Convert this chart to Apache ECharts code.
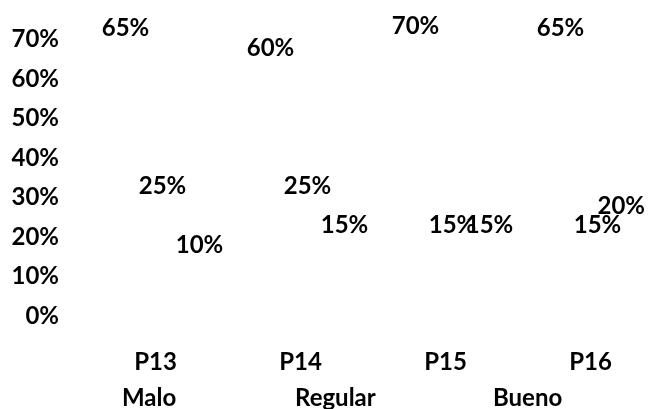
<!DOCTYPE html>
<html>
<head>
<meta charset="utf-8">
<script src="https://cdn.jsdelivr.net/npm/echarts@6/dist/echarts.min.js"></script>
<style>html,body{margin:0;padding:0;background:#fff}#c{width:648px;height:409px}</style>
</head>
<body>
<div id="c"></div>
<script>
var categories = ['P13', 'P14', 'P15', 'P16'];
var seriesNames = ['Malo', 'Regular', 'Bueno'];
var malo = [0.65, 0.60, 0.70, 0.65];
var regular = [0.25, 0.25, 0.15, 0.15];
var bueno = [0.10, 0.15, 0.15, 0.20];
var yTicks = [0, 0.1, 0.2, 0.3, 0.4, 0.5, 0.6, 0.7];

var FONT = 'Lato';
var textStyle = { fontFamily: FONT, fontWeight: 'bold', fontSize: 24, color: '#000' };
var values = [malo, regular, bueno];
var LABEL_DIST = 19;
var LABEL_CEIL = 14;   // labels are kept inside the chart area, like the original
var LABEL_RIGHT = 645;
var BAR_W = 25, BAR_GAP = 0.48;

var measureCtx = document.createElement('canvas').getContext('2d');
measureCtx.font = 'bold 24px ' + FONT;
function fmt(v) { return Math.round(v * 100) + '%'; }

var chart = echarts.init(document.getElementById('c'), null, { renderer: 'canvas' });
function buildSeries(withClamp) {
  return seriesNames.map(function (name, i) {
    return {
      name: name,
      type: 'bar',
      data: values[i].map(function (v, j) {
        var item = { value: v };
        if (withClamp) {
          var p = chart.convertToPixel({ gridIndex: 0 }, [j, v]);
          var cx = p[0] + (i - 1) * BAR_W * (1 + BAR_GAP);
          var labelTop = p[1] - LABEL_DIST - 24;
          var halfW = measureCtx.measureText(fmt(v)).width / 2;
          var dx = 0, dy = 0;
          if (labelTop < LABEL_CEIL) dy = LABEL_CEIL - labelTop;
          if (cx + halfW > LABEL_RIGHT) dx = LABEL_RIGHT - (cx + halfW);
          if (dx || dy) item.label = { offset: [dx, dy] };
        }
        return item;
      }),
      barWidth: BAR_W,
      barGap: (BAR_GAP * 100) + '%',
      itemStyle: { color: 'rgba(255,255,255,0)' },
      label: {
        show: true,
        position: 'top',
        distance: LABEL_DIST,
        fontFamily: FONT, fontWeight: 'bold', fontSize: 24, color: '#000',
        formatter: function (p) { return fmt(p.value); }
      }
    };
  });
}
var legendLefts = [103, 276, 474];
var legends = seriesNames.map(function (name, i) {
  return {
    data: [name],
    left: legendLefts[i],
    top: 386,
    padding: 0,
    icon: 'rect',
    itemWidth: 14,
    itemHeight: 14,
    itemStyle: { color: 'rgba(255,255,255,0)' },
    textStyle: textStyle,
    selectedMode: false
  };
});
chart.setOption({
  animation: false,
  backgroundColor: '#fff',
  grid: { left: 90, top: 39.5, width: 580, bottom: 93, containLabel: false, outerBoundsMode: 'none' },
  legend: legends,
  xAxis: {
    type: 'category',
    data: categories,
    axisLine: { show: false },
    axisTick: { show: false },
    axisLabel: Object.assign({ margin: 34, padding: [0, 14, 0, 0] }, textStyle)
  },
  yAxis: {
    type: 'value',
    min: 0,
    max: 0.7,
    interval: 0.1,
    splitLine: { show: false },
    axisLine: { show: false },
    axisTick: { show: false },
    axisLabel: Object.assign({ margin: 31, formatter: fmt }, textStyle)
  },
  series: buildSeries(false)
});
chart.setOption({ series: buildSeries(true) });
</script>
</body>
</html>
